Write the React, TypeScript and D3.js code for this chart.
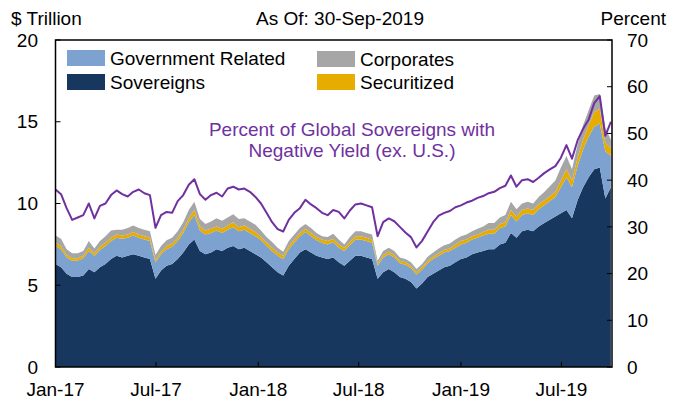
import React from "react";
import * as d3 from "d3";

// Sample dates: every 10 days from 1-Jan-2017
const START = new Date(2017, 0, 1);
const END = new Date(2019, 8, 30);
const STEP_DAYS = 10;

const sovereigns = [
  6.3, 6.1, 5.7, 5.5, 5.5, 5.6, 6.0, 5.8, 6.1, 6.3,
  6.6, 6.8, 6.7, 6.8, 6.9, 6.8, 6.7, 6.6, 5.4, 5.9,
  6.2, 6.3, 6.6, 7.0, 7.5, 7.8, 7.1, 6.9, 7.0, 7.2,
  7.1, 7.3, 7.4, 7.2, 7.3, 7.1, 6.9, 6.7, 6.4, 6.1,
  5.8, 5.6, 6.2, 6.6, 7.0, 7.2, 7.0, 6.8, 6.7, 6.6,
  6.7, 6.4, 6.2, 6.5, 6.8, 6.8, 6.7, 6.6, 5.4, 5.8,
  6.0, 5.8, 5.5, 5.4, 5.2, 4.8, 5.1, 5.5, 5.7, 5.9,
  6.1, 6.2, 6.4, 6.6, 6.7, 6.9, 7.0, 7.1, 7.2, 7.2,
  7.5, 7.6, 8.2, 7.9, 8.3, 8.4, 8.3, 8.6, 8.8, 9.0,
  9.2, 9.4, 9.6, 9.1, 10.2, 11.0, 11.6, 12.1, 12.2, 10.3,
  11.0,
];

const governmentRelated = [
  1.1, 1.1, 1.0, 1.0, 1.0, 1.05, 1.1, 1.0, 1.05, 1.1,
  1.1, 1.1, 1.15, 1.1, 1.15, 1.1, 1.1, 1.1, 1.0, 1.0,
  1.0, 1.05, 1.1, 1.2, 1.35, 1.5, 1.25, 1.2, 1.2, 1.15,
  1.1, 1.1, 1.15, 1.1, 1.1, 1.1, 1.1, 1.05, 1.0, 1.0,
  1.0, 1.0, 1.0, 1.0, 1.0, 1.05, 1.0, 0.95, 0.9, 0.9,
  0.95, 0.9, 0.9, 0.95, 1.0, 1.0, 1.0, 1.0, 0.8, 0.9,
  0.9, 0.9, 0.85, 0.85, 0.85, 0.85, 0.85, 0.85, 0.9, 0.9,
  0.9, 0.9, 0.9, 0.9, 0.9, 0.9, 0.9, 0.95, 0.95, 0.95,
  1.0, 1.0, 1.1, 1.0, 1.0, 1.0, 1.0, 1.05, 1.1, 1.15,
  1.2, 1.6, 2.0, 1.9, 2.1, 2.3, 2.5, 2.6, 2.7, 2.9,
  1.9,
];

const securitized = [
  0.2, 0.2, 0.15, 0.15, 0.15, 0.15, 0.2, 0.15, 0.2, 0.2,
  0.2, 0.2, 0.2, 0.2, 0.2, 0.2, 0.2, 0.2, 0.15, 0.15,
  0.2, 0.2, 0.2, 0.2, 0.25, 0.3, 0.25, 0.25, 0.25, 0.25,
  0.25, 0.25, 0.3, 0.25, 0.25, 0.25, 0.25, 0.2, 0.2, 0.2,
  0.2, 0.2, 0.2, 0.2, 0.2, 0.2, 0.2, 0.2, 0.2, 0.2,
  0.2, 0.2, 0.2, 0.2, 0.2, 0.2, 0.2, 0.2, 0.1, 0.15,
  0.15, 0.15, 0.15, 0.15, 0.15, 0.15, 0.15, 0.15, 0.15, 0.15,
  0.15, 0.15, 0.2, 0.2, 0.2, 0.2, 0.2, 0.2, 0.25, 0.25,
  0.25, 0.25, 0.3, 0.3, 0.3, 0.3, 0.3, 0.3, 0.3, 0.3,
  0.3, 0.4, 0.5, 0.4, 0.5, 0.6, 0.7, 0.9, 0.9, 0.5,
  0.5,
];

const corporates = [
  0.45, 0.45, 0.35, 0.3, 0.3, 0.3, 0.4, 0.3, 0.35, 0.4,
  0.45, 0.3, 0.35, 0.4, 0.4, 0.4, 0.4, 0.4, 0.3, 0.35,
  0.35, 0.35, 0.4, 0.45, 0.5, 0.5, 0.45, 0.4, 0.45, 0.5,
  0.5, 0.5, 0.5, 0.5, 0.45, 0.45, 0.45, 0.4, 0.35, 0.35,
  0.3, 0.25, 0.3, 0.3, 0.3, 0.3, 0.3, 0.25, 0.2, 0.25,
  0.3, 0.3, 0.2, 0.3, 0.3, 0.3, 0.3, 0.3, 0.2, 0.25,
  0.25, 0.25, 0.2, 0.2, 0.2, 0.2, 0.2, 0.25, 0.25, 0.3,
  0.3, 0.3, 0.3, 0.3, 0.3, 0.3, 0.35, 0.35, 0.4, 0.4,
  0.4, 0.45, 0.5, 0.45, 0.4, 0.4, 0.4, 0.45, 0.5, 0.6,
  0.7, 0.8, 0.8, 0.7, 0.8, 0.9, 0.9, 1.0, 0.9, 0.9,
  0.5,
];

const pctNegative = [
  38.0, 37.0, 34.0, 31.5, 32.0, 32.5, 35.0, 31.8, 34.5, 35.0,
  36.8, 37.8, 37.0, 36.5, 37.5, 38.0, 37.2, 36.8, 29.8, 32.5,
  33.2, 33.0, 35.5, 36.8, 39.0, 40.2, 37.0, 35.8, 36.8, 37.3,
  36.5, 38.2, 38.6, 38.0, 38.2, 37.5, 36.4, 35.0, 33.0, 31.0,
  29.5, 29.0, 31.5, 33.0, 34.0, 35.8, 34.8, 34.0, 33.0, 32.5,
  33.6, 33.2, 31.8, 33.5, 34.8, 35.0, 34.6, 34.2, 28.0, 31.0,
  31.8, 31.2, 30.0, 28.8, 27.8, 25.6, 27.0, 29.0, 31.0, 32.4,
  33.0, 33.4, 34.2, 34.6, 35.2, 35.6, 36.2, 36.6, 37.2, 37.5,
  38.3, 38.8, 41.0, 38.6, 40.0, 40.2, 39.6, 40.5, 41.5, 42.3,
  43.0, 44.8, 47.5, 44.6, 48.5, 51.0, 53.0, 56.5, 58.0, 49.5,
  52.5,
];

const leftTicks = [0, 5, 10, 15, 20];
const rightTicks = [0, 10, 20, 30, 40, 50, 60, 70];
const xTickDates = [
  new Date(2017, 0, 1), new Date(2017, 6, 1), new Date(2018, 0, 1),
  new Date(2018, 6, 1), new Date(2019, 0, 1), new Date(2019, 6, 1),
];

const seriesKeys = ["Sovereigns", "Government Related", "Securitized", "Corporates"];
const seriesColors: Record<string, string> = {
  "Sovereigns": "#17375e",
  "Government Related": "#7ea2cf",
  "Securitized": "#e6ad00",
  "Corporates": "#a6a6a6",
};

const FONT = "'Liberation Sans', Arial, sans-serif";

export default function App() {
  const W = 674, H = 403;
  const m = { left: 55.5, right: 612, top: 40, bottom: 367 };

  const dates = sovereigns.map((_, i) => d3.timeDay.offset(START, i * STEP_DAYS));
  const rows = dates.map((d, i) => ({
    date: d,
    "Sovereigns": sovereigns[i],
    "Government Related": governmentRelated[i],
    "Securitized": securitized[i],
    "Corporates": corporates[i],
  }));

  const x = d3.scaleTime().domain([START, END]).range([m.left, m.right]);
  const yL = d3.scaleLinear().domain([0, 20]).range([m.bottom, m.top]);
  const yR = d3.scaleLinear().domain([0, 70]).range([m.bottom, m.top]);

  const stacked = d3.stack<any>().keys(seriesKeys)(rows);
  const area = d3.area<any>()
    .x((d) => x(d.data.date))
    .y0((d) => yL(d[0]))
    .y1((d) => yL(d[1]));
  const line = d3.line<number>()
    .x((_, i) => x(dates[i]))
    .y((v) => yR(v));

  const fmt = d3.timeFormat("%b-%y");
  const fs = 19;

  const legend = [
    { key: "Government Related", x: 67, y: 50 },
    { key: "Sovereigns", x: 67, y: 74 },
    { key: "Corporates", x: 317, y: 51 },
    { key: "Securitized", x: 317, y: 74 },
  ];

  return (
    <svg width={W} height={H} style={{ position: "absolute", left: 0, top: 0 }} fontFamily={FONT}>
      <rect x={0} y={0} width={W} height={H} fill="#fff" />
      {stacked.map((s) => (
        <path key={s.key} d={area(s) || ""} fill={seriesColors[s.key]} />
      ))}
      <path d={line(pctNegative) || ""} fill="none" stroke="#7030a0" strokeWidth={2} strokeLinejoin="round" />

      {/* frame */}
      <rect x={m.left} y={m.top} width={m.right - m.left} height={m.bottom - m.top} fill="none" stroke="#000" strokeWidth={1.5} />

      {/* left ticks */}
      {leftTicks.map((t) => (
        <g key={"l" + t}>
          <line x1={m.left} x2={m.left + 5} y1={yL(t)} y2={yL(t)} stroke="#000" strokeWidth={1} />
          <text x={38} y={yL(t)} dy="0.35em" textAnchor="end" fontSize={fs} fill="#000">{t}</text>
        </g>
      ))}
      {/* right ticks */}
      {rightTicks.map((t) => (
        <g key={"r" + t}>
          <line x1={m.right - 5} x2={m.right} y1={yR(t)} y2={yR(t)} stroke="#000" strokeWidth={1} />
          <text x={627} y={yR(t)} dy="0.35em" textAnchor="start" fontSize={fs} fill="#000">{t}</text>
        </g>
      ))}
      {/* x ticks */}
      {xTickDates.map((d) => (
        <g key={d.toISOString()}>
          <line x1={x(d)} x2={x(d)} y1={m.bottom} y2={m.bottom - 5} stroke="#000" strokeWidth={1} />
          <text x={x(d)} y={396} textAnchor="middle" fontSize={fs} fill="#000">{fmt(d)}</text>
        </g>
      ))}

      {/* titles */}
      <text x={11} y={25} fontSize={fs} fill="#000">$ Trillion</text>
      <text x={340} y={25} textAnchor="middle" fontSize={fs} fill="#000">As Of: 30-Sep-2019</text>
      <text x={666} y={25} textAnchor="end" fontSize={fs} fill="#000">Percent</text>

      {/* legend */}
      {legend.map((l) => (
        <g key={l.key}>
          <rect x={l.x} y={l.y} width={38} height={16} fill={seriesColors[l.key]} />
          <text x={l.x + 43} y={l.y + 15} fontSize={fs} fill="#000">{l.key}</text>
        </g>
      ))}

      {/* annotation */}
      <text x={352} y={136} textAnchor="middle" fontSize={fs} fill="#7030a0">Percent of Global Sovereigns with</text>
      <text x={352} y={157} textAnchor="middle" fontSize={fs} fill="#7030a0">Negative Yield (ex. U.S.)</text>
    </svg>
  );
}
